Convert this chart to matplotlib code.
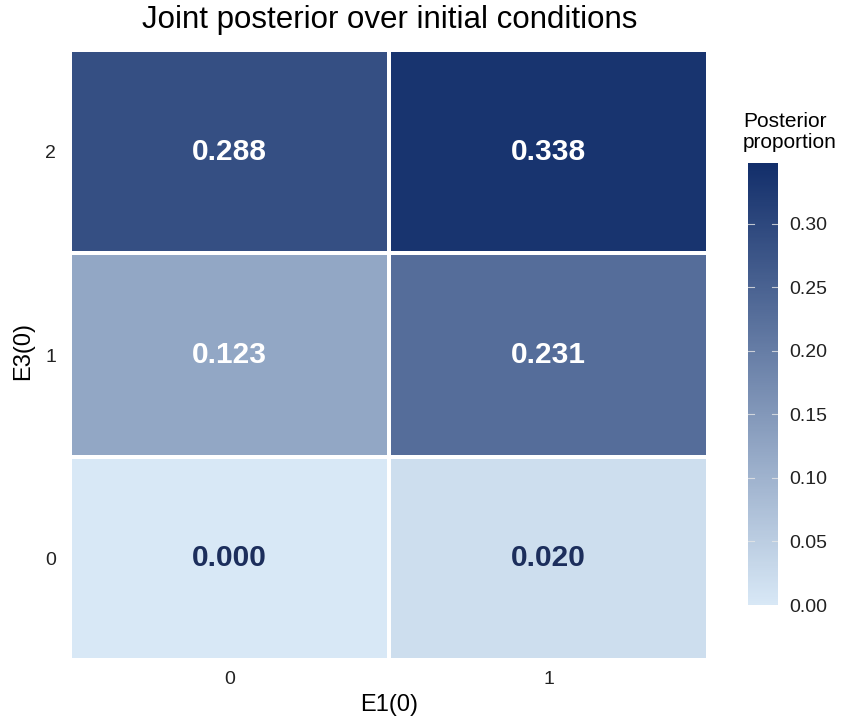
import matplotlib
matplotlib.use("Agg")
import matplotlib.pyplot as plt
import numpy as np
from matplotlib.colors import LinearSegmentedColormap, Normalize

plt.rcParams['font.family'] = ['Liberation Sans', 'DejaVu Sans']

e1_labels = ["0", "1"]
e3_labels = ["0", "1", "2"]
# rows: E3 = 0, 1, 2 ; cols: E1 = 0, 1
values = np.array([
    [0.000, 0.020],
    [0.123, 0.231],
    [0.288, 0.338],
])
cbar_ticks = [0.00, 0.05, 0.10, 0.15, 0.20, 0.25, 0.30]

vmin, vmax = 0.0, 0.348
cmap = LinearSegmentedColormap.from_list("post", ["#d8e8f6", "#132f6b"])
norm = Normalize(vmin=vmin, vmax=vmax)

fig = plt.figure(figsize=(8.45, 7.25), dpi=100)
ax = fig.add_axes([70/845, 1-660/725, (708-70)/845, (660-50)/725])

ax.pcolormesh(np.arange(3), np.arange(4), values, cmap=cmap, norm=norm,
              edgecolor="white", linewidth=1.6)
for i in range(values.shape[0]):
    for j in range(values.shape[1]):
        v = values[i, j]
        col = "white" if v > 0.1 else "#1c2e5c"
        ax.text(j + 0.5, i + 0.5, f"{v:.3f}", ha="center", va="center",
                color=col, fontsize=21.5, fontweight="bold")

ax.set_xlim(0, 2)
ax.set_ylim(0, 3)
ax.set_xticks([0.5, 1.5])
ax.set_xticklabels(e1_labels)
ax.set_yticks([0.5, 1.5, 2.5])
ax.set_yticklabels(e3_labels)
ax.tick_params(length=0, labelsize=14, colors="#222222")
ax.tick_params(axis="y", pad=10)
ax.tick_params(axis="x", pad=8)
for s in ax.spines.values():
    s.set_visible(False)
ax.set_xlabel("E1(0)", fontsize=17, labelpad=4, color="black")
ax.set_ylabel("E3(0)", fontsize=17, color="black")
ax.yaxis.set_label_coords(-36/638, 0.5 + 4/610)
fig.text(389.5/845, 1-20/725, "Joint posterior over initial conditions",
         fontsize=22.5, ha="center", va="center")

cax = fig.add_axes([748/845, 1-605/725, 30/845, (605-163)/725])
grad = np.linspace(vmin, vmax, 300).reshape(-1, 1)
cax.imshow(grad, aspect="auto", cmap=cmap, norm=norm, origin="lower",
           extent=[0, 1, vmin, vmax])
cax.set_xlim(0, 1)
cax.set_ylim(vmin, vmax)
for t in cbar_ticks:
    cax.plot([0, 0.2], [t, t], color="#e6e6e6", lw=0.8, alpha=0.8)
    cax.plot([0.8, 1], [t, t], color="#e6e6e6", lw=0.8, alpha=0.8)
cax.set_xticks([])
cax.yaxis.tick_right()
cax.set_yticks(cbar_ticks)
cax.set_yticklabels([f"{t:.2f}" for t in cbar_ticks])
cax.tick_params(length=0, labelsize=14, colors="#222222", pad=8)
for s in cax.spines.values():
    s.set_visible(False)
fig.text(743/845, 1-132/725, "Posterior\nproportion", ha="left", va="center",
         fontsize=15, linespacing=1.1)

fig.savefig("out.png", dpi=100)
